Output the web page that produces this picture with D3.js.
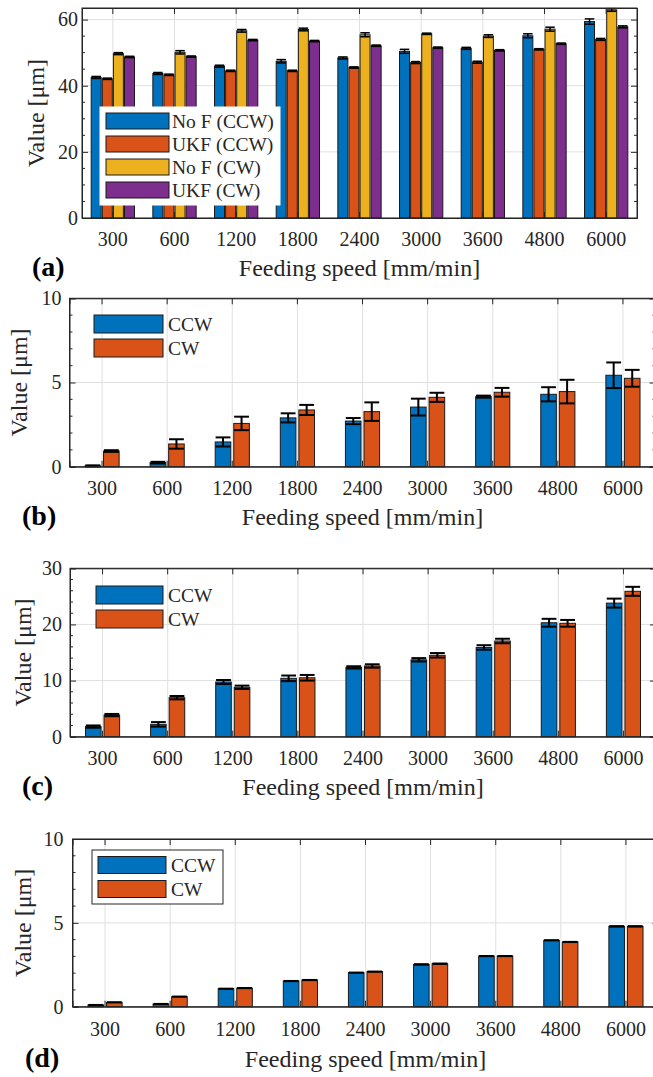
<!DOCTYPE html>
<html><head><meta charset="utf-8">
<script src="https://cdn.jsdelivr.net/npm/d3@7"></script>
<style>html,body{margin:0;padding:0;background:#fff;overflow:hidden}</style>
</head><body><svg id="fig" width="653" height="1077"></svg>
<script>
// ---------- DATA ----------
const categories = ["300","600","1200","1800","2400","3000","3600","4800","6000"];
// panel (a)
const aSeriesNames = ["No F (CCW)","UKF (CCW)","No F (CW)","UKF (CW)"];
const aNoFCCW = [42.5,43.7,45.9,47.4,48.4,50.4,51.3,55.1,59.4];
const aUKFCCW = [42.1,43.3,44.5,44.5,45.5,47.0,47.1,51.0,54.0];
const aNoFCW  = [49.7,50.1,56.6,57.0,55.4,55.7,55.0,57.1,62.9];
const aUKFCW  = [48.7,48.8,53.8,53.5,52.1,51.5,50.7,52.7,57.8];
const aNoFCCWErr = [0.3,0.3,0.3,0.5,0.3,0.6,0.3,0.6,0.8];
const aUKFCCWErr = [0.2,0.2,0.2,0.2,0.2,0.3,0.3,0.2,0.3];
const aNoFCWErr  = [0.3,0.5,0.4,0.4,0.6,0.2,0.4,0.6,0.4];
const aUKFCWErr  = [0.2,0.2,0.2,0.2,0.2,0.2,0.2,0.2,0.3];
const aTicks = [0,20,40,60];
// panels (b)-(d)
const bcdSeriesNames = ["CCW","CW"];
const bCCW = [0.05,0.24,1.47,2.90,2.71,3.54,4.16,4.30,5.43];
const bCW  = [0.93,1.35,2.57,3.37,3.27,4.12,4.42,4.46,5.25];
const bCCWErr = [0.03,0.05,0.27,0.27,0.18,0.50,0.06,0.42,0.76];
const bCWErr  = [0.05,0.28,0.40,0.30,0.55,0.27,0.26,0.70,0.50];
const bTicks = [0,5,10];
const cCCW = [1.8,2.2,9.75,10.4,12.35,13.7,15.9,20.3,23.8];
const cCW  = [3.85,6.95,8.8,10.5,12.6,14.5,17.05,20.2,25.9];
const cCCWErr = [0.2,0.4,0.35,0.5,0.2,0.3,0.4,0.7,0.8];
const cCWErr  = [0.2,0.3,0.3,0.5,0.3,0.4,0.4,0.6,0.8];
const cTicks = [0,10,20,30];
const dCCW = [0.10,0.16,1.07,1.53,2.03,2.52,3.02,3.96,4.79];
const dCW  = [0.26,0.60,1.11,1.59,2.09,2.56,3.02,3.86,4.79];
const dCCWErr = [0.02,0.02,0.02,0.02,0.02,0.03,0.02,0.02,0.03];
const dCWErr  = [0.02,0.02,0.02,0.02,0.02,0.03,0.02,0.02,0.03];
const dTicks = [0,5,10];
const xLabel = "Feeding speed [mm/min]";
const yLabel = "Value [\u03bcm]";
const colors = ["#0072BD","#D95319","#EDB120","#7E2F8E"];

// ---------- DRAW ----------
const FONT = "'Liberation Serif'";
const svg = d3.select("#fig");

function txt(sel, size, bold){
  return sel.attr("font-family", null).style("font-family", FONT)
    .style("font-size", size + "px").style("font-weight", bold ? "bold" : "normal")
    .attr("fill", "#262626");
}

function drawPanel(cfg){
  const g = svg.append("g");
  const x = d3.scaleBand().domain(categories).range([cfg.left, cfg.right]);
  const y = d3.scaleLinear().domain([0, cfg.ymax]).range([cfg.bottom, cfg.top]);
  const step = x.step();
  const n = cfg.series.length;
  const slot = step * cfg.slotFrac;
  const bw = slot * cfg.barFrac;
  const cx = (c, i) => x(c) + step/2 + (i - (n-1)/2) * slot;

  // grid
  g.append("g").selectAll("line").data(cfg.ticks).join("line")
    .attr("x1", cfg.left).attr("x2", cfg.right)
    .attr("y1", d => y(d)).attr("y2", d => y(d))
    .attr("stroke", "#e0e0e0").attr("stroke-width", 1);
  g.append("g").selectAll("line").data(categories).join("line")
    .attr("x1", d => x(d)+step/2).attr("x2", d => x(d)+step/2)
    .attr("y1", cfg.top).attr("y2", cfg.bottom)
    .attr("stroke", "#e0e0e0").attr("stroke-width", 1);

  // bars
  cfg.series.forEach((s, i) => {
    g.append("g").selectAll("rect").data(categories).join("rect")
      .attr("x", (c) => cx(c, i) - bw/2)
      .attr("y", (c, k) => y(s.values[k]))
      .attr("width", bw)
      .attr("height", (c, k) => y(0) - y(s.values[k]))
      .attr("fill", colors[i]).attr("stroke", "#1a1a1a").attr("stroke-width", 1);
  });
  // error bars
  cfg.series.forEach((s, i) => {
    const eg = g.append("g").attr("stroke", "#000").attr("stroke-width", cfg.errW).attr("fill", "none");
    categories.forEach((c, k) => {
      const xc = cx(c, i), v = s.values[k], e = s.err[k];
      const cap = bw * 0.95 / 2;
      eg.append("line").attr("x1", xc).attr("x2", xc).attr("y1", y(v - e)).attr("y2", y(v + e));
      eg.append("line").attr("x1", xc - cap).attr("x2", xc + cap).attr("y1", y(v - e)).attr("y2", y(v - e));
      eg.append("line").attr("x1", xc - cap).attr("x2", xc + cap).attr("y1", y(v + e)).attr("y2", y(v + e));
    });
  });

  // axes
  const minor = d3.range(0, cfg.ymax + 1e-9, cfg.minorStep).filter(v => !cfg.ticks.some(t => Math.abs(t - v) < 1e-9));
  const left = g.append("g").attr("transform", `translate(${cfg.left},0)`)
    .call(d3.axisLeft(y).tickValues(cfg.ticks).tickSize(-6).tickPadding(cfg.yPad).tickFormat(d3.format("d")));
  left.attr("font-family", null);
  txt(left.selectAll("text"), 20);
  left.append("g").selectAll("line").data(minor).join("line")
    .attr("x1", 0).attr("x2", 3).attr("y1", d => y(d)).attr("y2", d => y(d)).attr("stroke", "#262626");
  const right = g.append("g").attr("transform", `translate(${cfg.right},0)`)
    .call(d3.axisRight(y).tickValues(cfg.ticks).tickSize(-6).tickFormat(""));
  right.append("g").selectAll("line").data(minor).join("line")
    .attr("x1", 0).attr("x2", -3).attr("y1", d => y(d)).attr("y2", d => y(d)).attr("stroke", "#262626");
  const bottom = g.append("g").attr("transform", `translate(0,${cfg.bottom})`)
    .call(d3.axisBottom(x).tickSize(-6).tickPadding(cfg.xPad));
  bottom.attr("font-family", null);
  txt(bottom.selectAll("text"), 20);
  g.append("g").attr("transform", `translate(0,${cfg.top})`)
    .call(d3.axisTop(x).tickSize(-6).tickFormat(""));
  g.selectAll(".domain").attr("stroke", "#262626");
  g.selectAll(".tick line").attr("stroke", "#262626");
  g.append("rect").attr("x", cfg.left).attr("y", cfg.top)
    .attr("width", cfg.right - cfg.left).attr("height", cfg.bottom - cfg.top)
    .attr("fill", "none").attr("stroke", "#262626").attr("stroke-width", 1);

  // labels
  txt(g.append("text").attr("x", (cfg.left + cfg.right)/2).attr("y", cfg.bottom + cfg.xLabelOff)
    .attr("text-anchor", "middle").text(xLabel), 24);
  txt(g.append("text").attr("transform", `translate(${cfg.yLabelX},${(cfg.top + cfg.bottom)/2}) rotate(-90)`)
    .attr("text-anchor", "middle").text(yLabel), 24);
  txt(g.append("text").attr("x", cfg.tagX).attr("y", cfg.bottom + cfg.xLabelOff).text(cfg.tag), 28, true)
    .attr("fill", "#000");

  // legend
  const L = cfg.legend;
  if (L.bg) {
    g.append("rect").attr("x", L.box[0]).attr("y", L.box[1]).attr("width", L.box[2]).attr("height", L.box[3])
      .attr("fill", "#fff").attr("stroke", L.border ? "#262626" : "#fff").attr("stroke-width", 1);
  }
  cfg.series.forEach((s, i) => {
    const cy = L.y0 + i * L.dy;
    g.append("rect").attr("x", L.sx).attr("y", cy - L.sh/2).attr("width", L.sw).attr("height", L.sh)
      .attr("fill", colors[i]).attr("stroke", "#1a1a1a").attr("stroke-width", 1);
    txt(g.append("text").attr("x", L.tx).attr("y", cy).attr("dy", "0.35em").text(s.name), L.fs);
  });
}

const common = {slotFrac: 0.285, barFrac: 0.84, errW: 2, xPad: 14, xLabelOff: 58};

drawPanel(Object.assign({}, common, {
  left: 82, right: 637, top: 8, bottom: 218, ymax: 63.5, ticks: aTicks, minorStep: 5,
  slotFrac: 0.18, barFrac: 0.9, errW: 1.5, yPad: 4, yLabelX: 44, tagX: 32, tag: "(a)",
  series: [
    {name: aSeriesNames[0], values: aNoFCCW, err: aNoFCCWErr},
    {name: aSeriesNames[1], values: aUKFCCW, err: aUKFCCWErr},
    {name: aSeriesNames[2], values: aNoFCW, err: aNoFCWErr},
    {name: aSeriesNames[3], values: aUKFCW, err: aUKFCWErr}],
  legend: {bg: true, border: false, box: [100, 107, 180, 98], sx: 106, sw: 63, sh: 16, y0: 121, dy: 23, tx: 172, fs: 19.5}
}));

drawPanel(Object.assign({}, common, {
  left: 69.5, right: 655.5, top: 298.3, bottom: 466.7, ymax: 10, ticks: bTicks, minorStep: 1,
  yPad: 8, yLabelX: 27, tagX: 22, tag: "(b)",
  series: [
    {name: bcdSeriesNames[0], values: bCCW, err: bCCWErr},
    {name: bcdSeriesNames[1], values: bCW, err: bCWErr}],
  legend: {bg: false, sx: 94, sw: 69, sh: 18, y0: 324, dy: 24, tx: 168, fs: 19.5}
}));

drawPanel(Object.assign({}, common, {
  left: 70, right: 656, top: 568.3, bottom: 736.7, ymax: 30, ticks: cTicks, minorStep: 2,
  yPad: 8, yLabelX: 31, tagX: 22, tag: "(c)",
  series: [
    {name: bcdSeriesNames[0], values: cCCW, err: cCCWErr},
    {name: bcdSeriesNames[1], values: cCW, err: cCWErr}],
  legend: {bg: false, sx: 96, sw: 67, sh: 18, y0: 595, dy: 24, tx: 168, fs: 19.5}
}));

drawPanel(Object.assign({}, common, {
  left: 72.5, right: 658.5, top: 839, bottom: 1006.7, ymax: 10, ticks: dTicks, minorStep: 1,
  yPad: 9, yLabelX: 31, tagX: 25, tag: "(d)", errW: 1.5, xPad: 15, xLabelOff: 60,
  series: [
    {name: bcdSeriesNames[0], values: dCCW, err: dCCWErr},
    {name: bcdSeriesNames[1], values: dCW, err: dCWErr}],
  legend: {bg: true, border: true, box: [92, 850, 131, 54], sx: 98, sw: 68, sh: 17, y0: 865, dy: 24, tx: 171, fs: 19.5}
}));
</script></body></html>
